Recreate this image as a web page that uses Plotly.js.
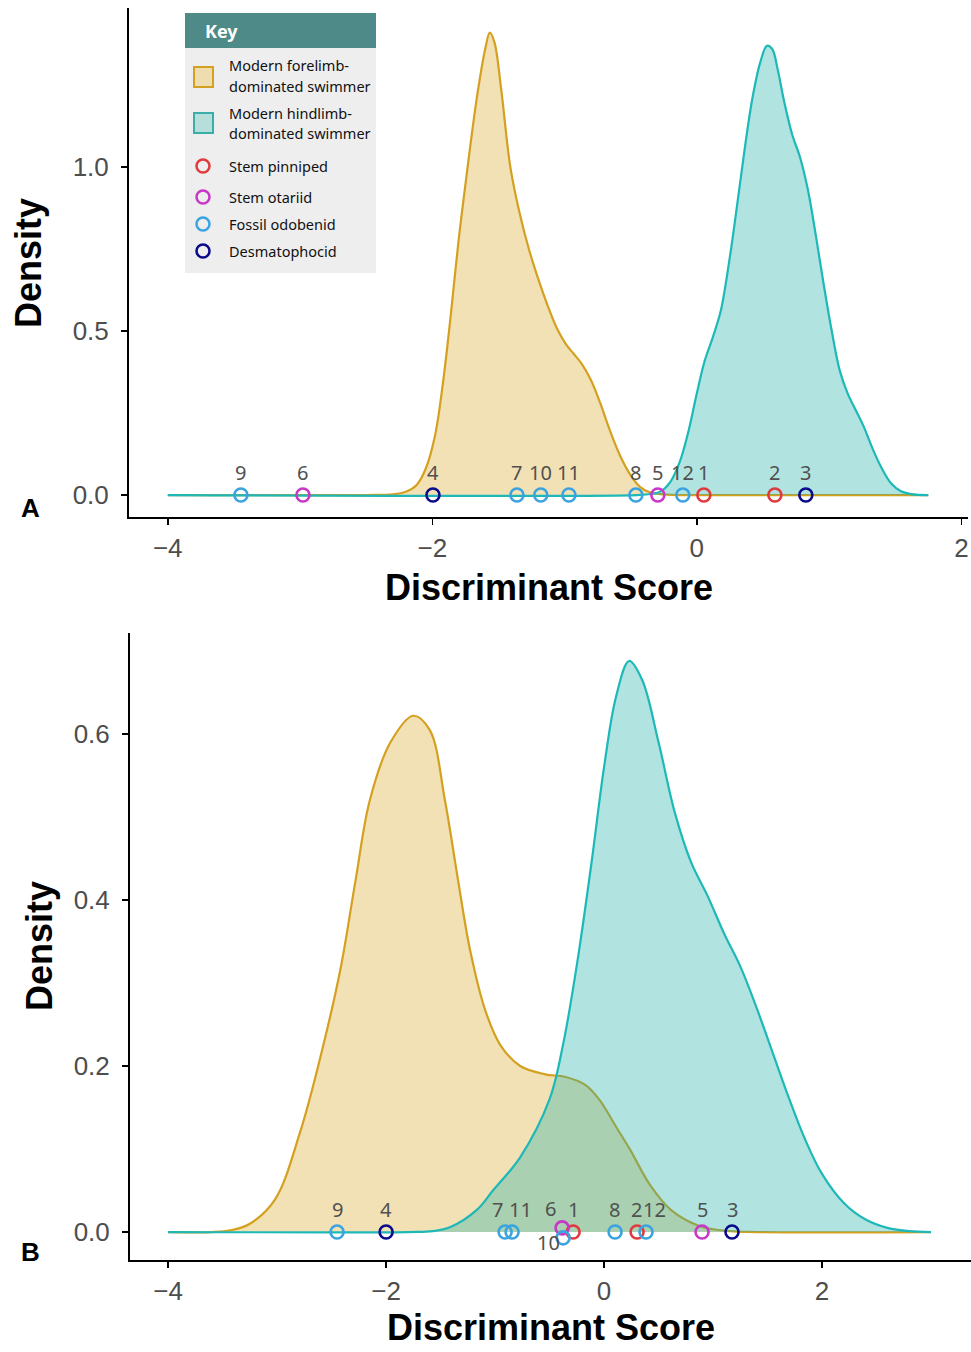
<!DOCTYPE html>
<html>
<head>
<meta charset="utf-8">
<script src="https://cdn.plot.ly/plotly-3.0.1.min.js"></script>
<style>html,body{margin:0;padding:0;background:#fff;}#chart{width:971px;height:1352px;}</style>
</head>
<body>
<div id="chart"></div>
<script>
// ---------- DATA ----------
// Specimen numbers and groups
const specimenIds = [1, 2, 3, 4, 5, 6, 7, 8, 9, 10, 11, 12];
const specimenGroup = ["Stem pinniped", "Stem pinniped", "Desmatophocid", "Desmatophocid",
  "Stem otariid", "Stem otariid", "Fossil odobenid", "Fossil odobenid", "Fossil odobenid",
  "Fossil odobenid", "Fossil odobenid", "Fossil odobenid"];
// Panel A discriminant scores
const scoresA = [0.053, 0.59, 0.824, -1.995, -0.295, -2.978, -1.36, -0.461, -3.447, -1.18, -0.967, -0.106];
const densA = [0, 0, 0, 0, 0, 0, 0, 0, 0, 0, 0, 0];
// Panel B discriminant scores (6 and 10 slightly jittered vertically)
const scoresB = [-0.284, 0.303, 1.174, -2.0, 0.899, -0.385, -0.908, 0.101, -2.45, -0.376, -0.844, 0.385];
const densB = [0, 0, 0, 0, 0, 0.005, 0, 0, 0, -0.007, 0, 0];

// Density curves, panel A
const foreA_x = [-4, -2.5, -2.3, -2.2, -2.12, -2.05, -1.98, -1.92, -1.86, -1.80, -1.73, -1.66, -1.60, -1.565, -1.53, -1.48, -1.41, -1.34, -1.27, -1.20, -1.13, -1.06, -0.99, -0.93, -0.87, -0.80, -0.73, -0.66, -0.58, -0.50, -0.43, -0.36, -0.28, -0.15, 0, 1.75];
const foreA_y = [0, 0, 0.002, 0.01, 0.03, 0.08, 0.18, 0.34, 0.55, 0.78, 1.01, 1.22, 1.36, 1.41, 1.38, 1.24, 1.0, 0.86, 0.75, 0.66, 0.58, 0.51, 0.46, 0.43, 0.40, 0.35, 0.28, 0.20, 0.12, 0.06, 0.025, 0.009, 0.003, 0, 0, 0];
const hindA_x = [-4, -0.45, -0.35, -0.27, -0.2, -0.13, -0.06, 0.0, 0.06, 0.12, 0.18, 0.24, 0.30, 0.36, 0.42, 0.48, 0.53, 0.57, 0.61, 0.66, 0.72, 0.78, 0.84, 0.90, 0.96, 1.02, 1.08, 1.14, 1.20, 1.26, 1.33, 1.40, 1.47, 1.54, 1.62, 1.75];
const hindA_y = [0, 0, 0.003, 0.012, 0.04, 0.10, 0.20, 0.31, 0.41, 0.48, 0.56, 0.70, 0.87, 1.05, 1.21, 1.32, 1.37, 1.36, 1.30, 1.20, 1.10, 1.03, 0.93, 0.79, 0.64, 0.50, 0.38, 0.31, 0.26, 0.21, 0.14, 0.08, 0.035, 0.012, 0.003, 0];

// Density curves, panel B
const foreB_x = [-4, -3.6, -3.43, -3.25, -3.02, -2.79, -2.61, -2.42, -2.28, -2.15, -1.96, -1.75, -1.60, -1.46, -1.34, -1.23, -1.09, -0.95, -0.77, -0.54, -0.36, -0.17, -0.04, 0.10, 0.24, 0.42, 0.61, 0.88, 1.16, 1.4, 3.0];
const foreB_y = [0, 0, 0.002, 0.01, 0.039, 0.12, 0.207, 0.316, 0.424, 0.52, 0.59, 0.622, 0.605, 0.52, 0.424, 0.34, 0.267, 0.225, 0.20, 0.19, 0.187, 0.177, 0.159, 0.129, 0.099, 0.057, 0.027, 0.007, 0.001, 0, 0];
const hindB_x = [-4, -1.8, -1.57, -1.41, -1.165, -1.02, -0.77, -0.5, -0.37, -0.24, -0.11, 0.0, 0.11, 0.23, 0.35, 0.5, 0.65, 0.8, 0.95, 1.1, 1.25, 1.4, 1.55, 1.7, 1.85, 2.0, 2.2, 2.4, 2.6, 2.8, 3.0];
const hindB_y = [0, 0, 0.001, 0.006, 0.027, 0.05, 0.09, 0.16, 0.23, 0.33, 0.45, 0.56, 0.645, 0.688, 0.665, 0.59, 0.505, 0.445, 0.405, 0.36, 0.32, 0.27, 0.215, 0.16, 0.11, 0.07, 0.035, 0.015, 0.005, 0.001, 0];

// Tick labels
const xTicks = [-4, -2, 0, 2];
const yTicksA = [0, 0.5, 1.0];
const yTicksB = [0, 0.2, 0.4, 0.6];

// Legend labels
const groupNames = ["Stem pinniped", "Stem otariid", "Fossil odobenid", "Desmatophocid"];
const densityNames = ["Modern forelimb-dominated swimmer", "Modern hindlimb-dominated swimmer"];

// ---------- STYLE ----------
const groupColors = {"Stem pinniped": "#E0393E", "Stem otariid": "#C837C8", "Fossil odobenid": "#3AA3E0", "Desmatophocid": "#0A0A8A"};
const foreLine = "#D4A020", foreFill = "rgba(218,165,32,0.33)";
const hindLine = "#1DB8B8", hindFill = "rgba(32,178,170,0.35)";
// label pixel offsets per specimen (repelled-label style)
const labelDxA = [0, 0, 0, 0, 0, 0, 0, 0, 0, 0, 0, 0];
const labelDyA = [23, 23, 23, 23, 23, 23, 23, 23, 23, 23, 23, 23];
const labelDxB = [0, -1, 0, 0, 0, -12, -8, -1, 0, -15, 8, 8];
const labelDyB = [23, 23, 23, 23, 23, 19, 23, 23, 23, -5, 23, 23];

const W = 971, H = 1352;
const px = x => x / W;
const py = y => 1 - y / H;

const traces = [];
function addDensity(xs, ys, line, fill, xa, ya, name) {
  traces.push({x: xs, y: ys, type: "scatter", mode: "lines", fill: "tozeroy", fillcolor: fill,
    line: {color: line, width: 2.2, shape: "spline", smoothing: 1.0}, xaxis: xa, yaxis: ya,
    name: name, showlegend: false, hoverinfo: "skip"});
}
addDensity(foreA_x, foreA_y, foreLine, foreFill, "x", "y", densityNames[0]);
addDensity(hindA_x, hindA_y, hindLine, hindFill, "x", "y", densityNames[1]);
addDensity(foreB_x, foreB_y, foreLine, foreFill, "x2", "y2", densityNames[0]);
addDensity(hindB_x, hindB_y, hindLine, hindFill, "x2", "y2", densityNames[1]);

const shapes = [];
const annotations = [];

function addPoints(scores, dens, dx, dy, xa, ya) {
  groupNames.forEach(g => {
    const idx = specimenIds.map((_, i) => i).filter(i => specimenGroup[i] === g);
    traces.push({
      x: idx.map(i => scores[i]), y: idx.map(i => dens[i]),
      type: "scatter", mode: "markers", name: g, showlegend: false,
      marker: {symbol: "circle-open", size: 13, color: groupColors[g], line: {width: 2.6, color: groupColors[g]}},
      xaxis: xa, yaxis: ya, cliponaxis: false
    });
  });
  specimenIds.forEach((id, i) => {
    annotations.push({xref: xa, yref: ya, x: scores[i], y: dens[i], text: String(id), showarrow: false,
      xshift: dx[i], yshift: dy[i], xanchor: "center", yanchor: "middle",
      font: {family: "Noto Sans, sans-serif", size: 20, color: "#505050"}});
  });
}
addPoints(scoresA, densA, labelDxA, labelDyA, "x", "y");
addPoints(scoresB, densB, labelDxB, labelDyB, "x2", "y2");

const tickFont = {family: "Liberation Sans, Arial, sans-serif", size: 26, color: "#4D4D4D"};
const axisCommon = {showline: true, linecolor: "#000", linewidth: 2, ticks: "outside", ticklen: 6,
  tickwidth: 1.5, tickcolor: "#000", showgrid: false, zeroline: false, tickfont: tickFont};

function rect(x0, y0, x1, y1, fill, lineColor, lw) {
  shapes.push({type: "rect", xref: "paper", yref: "paper", x0: px(x0), x1: px(x1), y0: py(y1), y1: py(y0),
    fillcolor: fill, line: {color: lineColor || fill, width: lw || 0}, layer: "above"});
}
function circ(cx, cy, r, color) {
  shapes.push({type: "circle", xref: "paper", yref: "paper", x0: px(cx - r), x1: px(cx + r), y0: py(cy + r), y1: py(cy - r),
    fillcolor: "rgba(0,0,0,0)", line: {color: color, width: 2.5}, layer: "above"});
}
function txt(x, y, s, opts) {
  annotations.push(Object.assign({xref: "paper", yref: "paper", x: px(x), y: py(y), text: s, showarrow: false,
    xanchor: "left", yanchor: "middle", font: {family: "Noto Sans, sans-serif", size: 14.5, color: "#111"}}, opts || {}));
}

// Legend (key) box
rect(185, 13, 376, 48, "#4E8A88");
rect(185, 48, 376, 273, "#EEEEEE");
txt(203, 31, "<b>Key</b>", {font: {family: "Noto Sans, sans-serif", size: 18, color: "#fff"}});
rect(194, 67, 213, 87, "#EFDDB2", foreLine, 2);
rect(194, 113, 213, 133, "#B6DEDA", "#3AAFA9", 2);
txt(227, 65, "Modern forelimb-");
txt(227, 86, "dominated swimmer");
txt(227, 113, "Modern hindlimb-");
txt(227, 133, "dominated swimmer");
const legY = [166, 197, 224, 251];
groupNames.forEach((g, i) => { circ(203, legY[i], 6.5, groupColors[g]); txt(227, legY[i], g); });

// Axis titles and panel letters
const titleFont = {family: "Liberation Sans, Arial, sans-serif", size: 36, color: "#000"};
txt(549, 587, "<b>Discriminant Score</b>", {xanchor: "center", font: titleFont});
txt(551, 1327, "<b>Discriminant Score</b>", {xanchor: "center", font: titleFont});
txt(29, 263, "<b>Density</b>", {xanchor: "center", textangle: -90, font: titleFont});
txt(39, 946, "<b>Density</b>", {xanchor: "center", textangle: -90, font: titleFont});
const letterFont = {family: "Liberation Sans, Arial, sans-serif", size: 26, color: "#000"};
txt(30, 508, "<b>A</b>", {xanchor: "center", font: letterFont});
txt(30, 1252, "<b>B</b>", {xanchor: "center", font: letterFont});

const layout = {
  width: W, height: H, margin: {l: 0, r: 0, t: 0, b: 0},
  paper_bgcolor: "#fff", plot_bgcolor: "rgba(0,0,0,0)", showlegend: false,
  xaxis: Object.assign({}, axisCommon, {domain: [px(129), px(968)], range: [-4.293, 2.05], anchor: "y",
    tickvals: xTicks, ticklabelstandoff: 1}),
  yaxis: Object.assign({}, axisCommon, {domain: [py(517), py(8)], range: [-0.067, 1.485], anchor: "x",
    tickvals: yTicksA, tickformat: ".1f", ticklabelstandoff: 7}),
  xaxis2: Object.assign({}, axisCommon, {domain: [px(130), 1], range: [-4.35, 3.367], anchor: "y2",
    tickvals: xTicks, ticklabelstandoff: 1}),
  yaxis2: Object.assign({}, axisCommon, {domain: [py(1260), py(633)], range: [-0.0337, 0.7217], anchor: "x2",
    tickvals: yTicksB, tickformat: ".1f", ticklabelstandoff: 7}),
  shapes: shapes, annotations: annotations
};

Plotly.newPlot("chart", traces, layout, {displayModeBar: false, staticPlot: true});
</script>
</body>
</html>
